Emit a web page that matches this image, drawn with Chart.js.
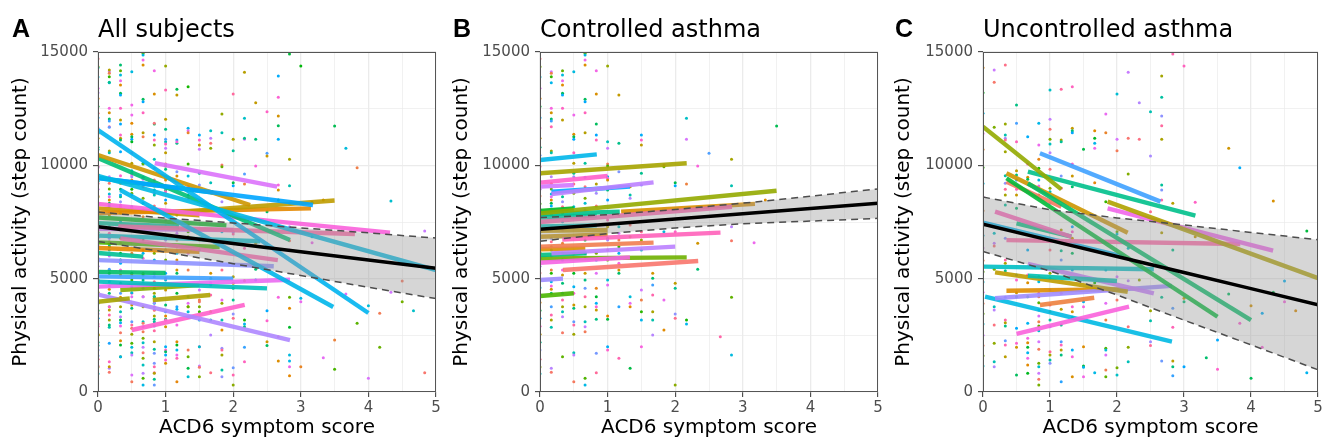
<!DOCTYPE html>
<html>
<head>
<meta charset="utf-8">
<script src="https://cdn.jsdelivr.net/npm/chart.js@4.4.1/dist/chart.umd.min.js"></script>
<style>
  html, body { margin: 0; padding: 0; background: #fff; }
  #wrap { position: relative; width: 1322px; height: 441px; }
  canvas { position: absolute; top: 0; }
</style>
</head>
<body>
<div id="wrap">
  <canvas id="pa" width="441" height="441" style="left:0px"></canvas>
  <canvas id="pb" width="442" height="441" style="left:441px"></canvas>
  <canvas id="pc" width="439" height="441" style="left:883px"></canvas>
</div>
<script>
// axis ticks
const xTicks = [0, 1, 2, 3, 4, 5];
const xMinor = [0.5, 1.5, 2.5, 3.5, 4.5];
const yTicks = [0, 5000, 10000, 15000];
const yMinor = [2500, 7500, 12500];

// population fit + confidence band, read at these scores
const bandX = [0, 1, 2, 3, 4, 5];
const fitA = [7290, 6923, 6556, 6189, 5822, 5455];
const upperA = [7940, 7670, 7460, 7240, 7020, 6790];
const lowerA = [6640, 6170, 5660, 5140, 4620, 4120];
const fitB = [7176, 7405, 7635, 7864, 8094, 8323];
const upperB = [7700, 7820, 8050, 8330, 8640, 8960];
const lowerB = [6650, 6990, 7240, 7420, 7540, 7660];
const fitC = [7400, 6690, 5980, 5270, 4560, 3850];
const upperC = [8600, 8040, 7680, 7370, 7040, 6720];
const lowerC = [6200, 5340, 4280, 3170, 2080, 980];

// daily observations, controlled asthma: score columns and step counts
const scoresB = [0, 0.167, 0.333, 0.5, 0.667, 0.833, 1, 1.167, 1.333, 1.5, 1.667, 1.833, 2, 2.167, 2.333, 2.5, 2.667, 2.833, 3.167, 3.333, 3.5];
const stepsB = [
  [14700, 14350, 13900, 13400, 12950, 12600, 12100, 11650, 11200, 10800, 10450, 9950, 9600, 9300, 8950, 8650, 8300, 8050, 7700, 7400, 7050, 6800, 6450, 6150, 5900, 5550, 5250, 4950, 4600, 4300, 3950, 3600, 3250, 2900, 2550, 2200, 1850, 1450, 1100, 800],
  [14132, 14058, 13911, 13647, 12514, 12323, 12044, 11955, 11705, 10632, 10558, 9500, 9205, 8955, 8735, 8617, 8470, 8323, 8206, 7882, 7808, 7294, 6779, 6632, 6411, 6264, 6000, 5382, 5235, 4867, 4676, 4529, 4353, 3765, 3397, 3176, 2852, 1044, 867],
  [14176, 13985, 13735, 13544, 13176, 13103, 12514, 11999, 8617, 8397, 8176, 7882, 7515, 7147, 6558, 6117, 5823, 5382, 5161, 4794, 4353, 4058, 3765, 3544, 3323, 2617, 1558],
  [14132, 12220, 11367, 11264, 11147, 10558, 10088, 9647, 9500, 9176, 8764, 8176, 7294, 6117, 5235, 4647, 4353, 3838, 3691, 3103, 2955, 2544, 1735, 1632, 455],
  [14941, 14867, 14647, 14426, 12911, 12808, 12323, 11441, 10088, 9470, 9058, 8544, 8323, 8029, 7735, 6706, 6117, 5897, 5235, 4941, 4573, 4205, 3765, 3103, 2882, 2661, 602, 308],
  [14176, 13147, 11823, 11338, 11117, 9176, 8911, 8764, 8206, 6117, 5823, 5235, 4573, 4205, 3911, 3765, 3617, 3205, 1705, 852],
  [14382, 11044, 10750, 10058, 9970, 9500, 9426, 9352, 8911, 8470, 7588, 7294, 6779, 6706, 6264, 5823, 4941, 4720, 3352, 3205, 2000, 1852],
  [13103, 10970, 9720, 9058, 7808, 7294, 6999, 6706, 6411, 6117, 5676, 5382, 5235, 3765, 1485],
  [9058, 8691, 8544, 7367, 6852, 4205, 3911, 3765, 1044],
  [11338, 11117, 10897, 9647, 9132, 7073, 6706, 6264, 4500, 4058, 3544, 3176, 2000],
  [5235, 5015, 4720, 4279, 3544, 3176, 2514],
  [10014, 9941, 7073, 4058, 2735],
  [9235, 9103, 7073, 4794, 4573, 3441, 3250, 308],
  [12073, 11147, 9176, 3176, 3000],
  [9970, 6558, 5411],
  [10529],
  [2441],
  [10264, 9103, 7294, 6676, 4176, 1632],
  [6588],
  [8470],
  [11735]
];

// daily observations, uncontrolled asthma
const scoresC = [0, 0.167, 0.333, 0.5, 0.667, 0.833, 1, 1.167, 1.333, 1.5, 1.667, 1.833, 2, 2.167, 2.333, 2.5, 2.667, 2.833, 3, 3.167, 3.333, 3.5, 3.667, 3.833, 4, 4.167, 4.333, 4.5, 4.667, 4.833];
const stepsC = [
  [14300, 13200, 12300, 11400, 10700, 9900, 9200, 8600, 8000, 7350, 6900, 6350, 5800, 5300, 4850, 4400, 3900, 3450, 3000, 2500, 2050, 1600, 1150],
  [14206, 13661, 11676, 7000, 6559, 6441, 5411, 3765, 3617, 2955, 2147, 1338, 1117],
  [14426, 11823, 11338, 11191, 11117, 10603, 9544, 9205, 8941, 8691, 8250, 6779, 5823, 5676, 5353, 4176, 3176, 3058, 2911, 2264, 2073, 1559],
  [12662, 11852, 11044, 9764, 9573, 9352, 8941, 8691, 8103, 5161, 4941, 4382, 4206, 2808, 2147, 1970, 749],
  [11264, 10058, 9470, 9382, 6264, 5161, 4823, 4206, 3029, 2367, 2176, 1970, 1735, 1485, 1191, 823],
  [11852, 10897, 10264, 9867, 9352, 9088, 8691, 5088, 4867, 4352, 4206, 3941, 3617, 3353, 3103, 2911, 2705, 2220, 1882, 1264, 1117, 823, 558, 308],
  [13323, 12029, 11588, 11147, 10941, 10559, 9823, 8985, 8838, 8323, 6264, 5235, 5015, 4500, 3838, 3544, 3176, 2882, 1779, 1632, 1411, 1264],
  [13353, 11117, 11044, 9529, 8985, 7147, 6235, 5823, 4352, 3647, 2955, 2220, 2073, 1852, 1632, 455],
  [13470, 11632, 11529, 11441, 10058, 9529, 9058, 7294, 7073, 6779, 6117, 5382, 3765, 3544, 3294, 1852, 1559, 676],
  [10706, 3985, 3765, 2000, 1147, 1088, 676],
  [11529, 11191, 10970, 10750, 9235, 4823, 853],
  [12264, 11441, 8397, 5382, 3912, 3176, 1926, 1852, 1632, 970, 676],
  [13147, 11147, 10647, 7073, 6970, 5088, 4059, 1073, 750],
  [14102, 11191, 9617, 6338, 4911, 2882, 1970, 1338],
  [12764, 11147, 4941],
  [12367, 10411, 7955, 3588, 3147, 2220, 2050],
  [13941, 12999, 12176, 11750, 11147, 9132, 8911, 8470, 7029, 4176, 1367],
  [14911, 8323, 6264, 3691, 2852, 1367, 1117, 720],
  [14382, 4132, 3985, 1117],
  [8367, 6852],
  [1514],
  [2294, 1000],
  [10750, 4323],
  [9897, 3029],
  [3808, 603],
  [3470, 1970],
  [8426, 4397],
  [4896, 3985],
  [3588],
  [7103, 852]
];

// per-subject fitted lines: [score start, steps start, score end, steps end]
const subjA = [
  [0, 11560, 4.0, 3485], [0, 9530, 5, 5380], [0, 9440, 3.18, 8250], [0.33, 8910, 3.48, 3750],
  [0, 10455, 2.25, 8250], [0, 10320, 2.84, 6705], [0.84, 10100, 2.65, 9060], [0, 8300, 4.32, 7030],
  [0.3, 7300, 3.8, 6970], [1.0, 7900, 3.5, 8450], [0, 7900, 3.15, 8100], [0.33, 6780, 2.66, 5820],
  [0, 5820, 2.6, 5550], [0, 6130, 0.67, 5970], [0, 4870, 2.5, 4570], [0, 4650, 2.84, 4950],
  [0, 3980, 0.47, 4130], [0.81, 4060, 1.66, 4280], [0, 4300, 2.84, 2290], [0.5, 2735, 2.17, 3840],
  [0.33, 4500, 1.5, 4720], [0, 6350, 1.5, 6190], [0, 7700, 1.9, 7350], [0, 7450, 1.2, 7300],
  [0, 6900, 2.4, 6650], [0, 6600, 1.8, 6400], [0, 5300, 1.0, 5250], [0, 5100, 2.0, 5000],
  [0, 9440, 1.7, 8800], [0, 8100, 1.5, 7800], [0, 7200, 2.0, 7150]
];
const subjB = [
  [0, 10235, 0.84, 10485], [0, 9650, 2.17, 10090], [0, 9235, 1.0, 9530], [0, 9060, 0.5, 9130],
  [0.17, 8735, 1.68, 9250], [0.17, 8835, 1.33, 9060], [0, 7880, 3.5, 8880], [0, 7985, 0.5, 8100],
  [0, 7850, 1.18, 7955], [0, 7115, 1.0, 7147], [0, 7500, 2.84, 8170], [1.2, 7950, 3.18, 8300],
  [0.33, 6730, 2.67, 7030], [0, 6412, 1.68, 6588], [0.17, 6118, 2.0, 6412], [0, 6045, 0.69, 6118],
  [0, 6300, 0.67, 6330], [0, 5705, 1.33, 5940], [0, 5890, 2.17, 5940], [0.34, 5380, 2.34, 5780],
  [0, 4940, 0.34, 5000], [0, 4235, 0.5, 4355], [0, 7300, 0.84, 7350], [0, 6850, 1.0, 6950],
  [0, 7700, 0.84, 7780]
];
const subjC = [
  [0, 11700, 1.17, 8940], [0.85, 10530, 2.65, 8400], [0.67, 9720, 3.17, 7780], [0.35, 9430, 3.5, 3320],
  [0.67, 9200, 4.0, 3175], [0.35, 9650, 2.16, 7030], [0.35, 9280, 1.17, 8175], [1.86, 8400, 5, 5020],
  [1.86, 8105, 4.33, 6235], [0.35, 6700, 3.84, 6530], [0.18, 7955, 1.32, 6850], [0.5, 7440, 1.32, 6850],
  [0, 7470, 2.1, 5970], [0, 5530, 2.55, 5413], [0.67, 5130, 2.0, 4900], [0.18, 5280, 2.16, 4425],
  [0.67, 5650, 2.55, 4355], [0.18, 4135, 2.82, 4680], [0.35, 4470, 2.16, 4530], [0.85, 3840, 1.66, 4160],
  [0.5, 2560, 2.18, 3765], [0.03, 4205, 2.82, 2220]
];

// line colours (hue angles of the ggplot hue wheel)
const hueA = [225, 215, 245, 220, 60, 155, 295, 320, 350, 70, 40, 345, 265, 170, 190, 305, 85, 80, 275, 330, 100, 40, 130, 175, 200, 120, 150, 250, 195, 60, 290];
const hueB = [220, 85, 330, 290, 280, 240, 95, 130, 165, 65, 345, 50, 340, 25, 280, 160, 50, 315, 110, 15, 270, 120, 190, 60, 175];
const hueC = [95, 250, 165, 135, 150, 60, 20, 80, 310, 350, 340, 160, 225, 195, 185, 70, 285, 270, 45, 30, 320, 215];

function hcl(h, a) {
  const L = 65, C = 100, hr = h * Math.PI / 180;
  const U = C * Math.cos(hr), V = C * Math.sin(hr);
  const Y = Math.pow((L + 16) / 116, 3);
  const u = U / (13 * L) + 0.19783982, v = V / (13 * L) + 0.4683363;
  const X = Y * 9 * u / (4 * v);
  const Z = Y * (12 - 3 * u - 20 * v) / (4 * v);
  const lin = [
    3.240479 * X - 1.53715 * Y - 0.498535 * Z,
    -0.969256 * X + 1.875992 * Y + 0.041556 * Z,
    0.055648 * X - 0.204043 * Y + 1.057311 * Z
  ];
  const rgb = lin.map(c => {
    c = c <= 0.0031308 ? 12.92 * c : 1.055 * Math.pow(c, 1 / 2.4) - 0.055;
    return Math.round(255 * Math.min(1, Math.max(0, c)));
  });
  return `rgba(${rgb[0]},${rgb[1]},${rgb[2]},${a === undefined ? 1 : a})`;
}

function toPoints(scores, steps) {
  const pts = [];
  scores.forEach((x, i) => steps[i].forEach(y => pts.push({ x, y })));
  return pts;
}

const ptsB = toPoints(scoresB, stepsB);
const ptsC = toPoints(scoresC, stepsC);
const colB = ptsB.map((p, i) => hcl((i * 97 + 10) % 360));
const colC = ptsC.map((p, i) => hcl((i * 89 + 40) % 360));
const colCinA = ptsC.map((p, i) => hcl((i * 89 + 190) % 360));

const panelDeco = {
  id: "panelDeco",
  afterDraw(chart, args, opts) {
    const { ctx, chartArea: a } = chart;
    ctx.save();
    ctx.strokeStyle = "#555";
    ctx.lineWidth = 1;
    ctx.strokeRect(a.left + 0.5, a.top + 0.5, a.right - a.left - 1, a.bottom - a.top - 1);
    ctx.fillStyle = "#000";
    ctx.textBaseline = "alphabetic";
    ctx.font = 'bold 25px "Liberation Sans"';
    ctx.fillText(opts.letter, 12, 37);
    ctx.font = '24px "DejaVu Sans"';
    ctx.fillText(opts.title, a.left, 37);
    ctx.restore();
  }
};

function lineSet(xs, ys, extra) {
  return Object.assign({
    type: "line",
    data: xs.map((x, i) => ({ x, y: ys[i] })),
    pointRadius: 0,
    tension: 0,
    fill: false
  }, extra);
}

function drawPanel(id, letter, title, pts, cols, subj, hues, fit, upper, lower, leftW, rightPad) {
  const datasets = [];
  datasets.push({
    type: "scatter",
    data: pts,
    pointRadius: 1.5,
    pointBorderWidth: 0,
    pointBackgroundColor: cols,
    order: 100
  });
  subj.forEach((s, i) => {
    datasets.push(lineSet([s[0], s[2]], [s[1], s[3]], {
      borderColor: hcl(hues[i], 0.9),
      borderWidth: 4.4,
      borderCapStyle: "butt",
      order: 50
    }));
  });
  datasets.push(lineSet(bandX, upper, {
    borderColor: "#4d4d4d", borderWidth: 1.5, borderDash: [7, 5],
    fill: "+1", backgroundColor: "rgba(153,153,153,0.4)", order: 20
  }));
  datasets.push(lineSet(bandX, lower, {
    borderColor: "#4d4d4d", borderWidth: 1.5, borderDash: [7, 5], order: 19
  }));
  datasets.push(lineSet(bandX, fit, { borderColor: "#000", borderWidth: 3.5, order: 0 }));

  const tickFont = { family: '"DejaVu Sans"', size: 15 };
  const titleFont = { family: '"DejaVu Sans"', size: 20 };

  return new Chart(document.getElementById(id), {
    type: "scatter",
    data: { datasets },
    options: {
      responsive: false,
      animation: false,
      events: [],
      layout: { padding: { top: 52, right: rightPad, left: 0, bottom: 0 } },
      plugins: {
        legend: { display: false },
        tooltip: { enabled: false },
        panelDeco: { letter, title }
      },
      scales: {
        x: {
          type: "linear", min: 0, max: 5,
          afterBuildTicks: s => { s.ticks = xTicks.concat(xMinor).sort((p, q) => p - q).map(v => ({ value: v })); },
          afterFit: s => { s.height = 49; s.paddingLeft = 0; s.paddingRight = 0; },
          ticks: {
            autoSkip: false, maxRotation: 0, padding: 2, color: "#4d4d4d", font: tickFont,
            callback: v => (xTicks.includes(v) ? String(v) : "")
          },
          grid: {
            color: "#ebebeb",
            lineWidth: c => (xTicks.includes(c.tick.value) ? 1.3 : 0.7),
            tickLength: 5,
            tickWidth: 1,
            tickColor: c => (xTicks.includes(c.tick.value) ? "#333" : "rgba(0,0,0,0)")
          },
          border: { display: false },
          title: { display: true, text: "ACD6 symptom score", color: "#000", font: titleFont, padding: { top: 0, bottom: 1 } }
        },
        y: {
          type: "linear", min: 0, max: 15000,
          afterBuildTicks: s => { s.ticks = yTicks.concat(yMinor).sort((p, q) => p - q).map(v => ({ value: v })); },
          afterFit: s => { s.width = leftW; s.paddingTop = 0; s.paddingBottom = 0; },
          ticks: {
            autoSkip: false, padding: 5, color: "#4d4d4d", font: tickFont,
            callback: v => (yTicks.includes(v) ? String(v) : "")
          },
          grid: {
            color: "#ebebeb",
            lineWidth: c => (yTicks.includes(c.tick.value) ? 1.3 : 0.7),
            tickLength: 5,
            tickWidth: 1,
            tickColor: c => (yTicks.includes(c.tick.value) ? "#333" : "rgba(0,0,0,0)")
          },
          border: { display: false },
          title: { display: true, text: "Physical activity (step count)", color: "#000", font: titleFont, padding: { top: 9, bottom: 0 } }
        }
      }
    },
    plugins: [panelDeco]
  });
}

drawPanel("pa", "A", "All subjects", ptsB.concat(ptsC), colB.concat(colCinA), subjA, hueA, fitA, upperA, lowerA, 98, 5);
drawPanel("pb", "B", "Controlled asthma", ptsB, colB, subjB, hueB, fitB, upperB, lowerB, 99, 5);
drawPanel("pc", "C", "Uncontrolled asthma", ptsC, colC, subjC, hueC, fitC, upperC, lowerC, 100, 2);
</script>
</body>
</html>
